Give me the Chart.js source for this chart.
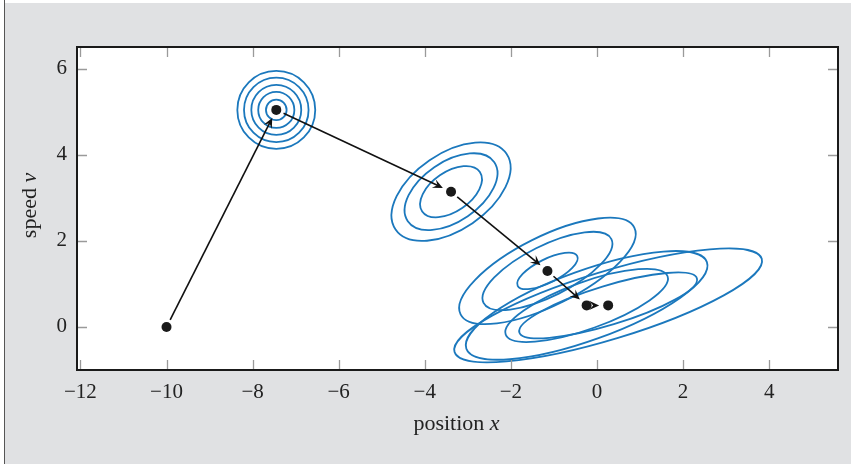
<!DOCTYPE html>
<html lang="en">
<head>
<meta charset="UTF-8">
<title>State estimate</title>
<script src="https://cdn.jsdelivr.net/npm/chart.js@4.4.1/dist/chart.umd.min.js"></script>
<style>
  body { margin: 0; background: #fff; }
  #wrap { position: relative; width: 851px; height: 464px; }
</style>
</head>
<body>
<div id="wrap"><canvas id="stateChart"></canvas></div>
<script>
// estimated state (position, speed) at each step
const posX = [-10, -7.45, -3.39, -1.15, -0.24, 0.26];
const speedV = [0, 5.04, 3.14, 1.30, 0.50, 0.50];

// uncertainty ellipses: state index, semi-axes, tilt in degrees, contour levels
const ellCentre = [1, 2, 3, 4, 5];
const ellMajor = [1, 1.56, 2.255, 2.97, 3.73];
const ellMinor = [1, 0.885, 0.80, 0.81, 0.79];
const ellAngle = [0, 34.3, 26.5, 19.8, 16.9];
const ellLevels = [
  [0.24, 0.42, 0.58, 0.75, 0.905],
  [0.52, 0.78, 1],
  [0.343, 0.736, 1],
  [0.673, 1],
  [0.578, 1]
];

const xTicks = [-12, -10, -8, -6, -4, -2, 0, 2, 4];
const yTicks = [0, 2, 4, 6];

const FONT = '"Liberation Serif", "DejaVu Serif", serif';
const BLUE = '#1b78bd';

function minusLabel(v) {
  return v < 0 ? '\u2212' + Math.abs(v) : String(v);
}

// page background, plot area fill
const backdrop = {
  id: 'backdrop',
  beforeDraw(chart) {
    const { ctx, width, height, chartArea: a } = chart;
    ctx.save();
    ctx.fillStyle = '#fff';
    ctx.fillRect(0, 0, width, height);
    ctx.fillStyle = '#e0e1e3';
    ctx.fillRect(5, 3, width - 5, height - 3);
    ctx.strokeStyle = '#555';
    ctx.lineWidth = 1;
    ctx.beginPath();
    ctx.moveTo(4.5, 0);
    ctx.lineTo(4.5, height);
    ctx.stroke();
    ctx.fillStyle = '#fff';
    ctx.fillRect(a.left, a.top, a.right - a.left, a.bottom - a.top);
    ctx.restore();
  }
};

// contour ellipses and arrows between consecutive estimates
const overlays = {
  id: 'overlays',
  beforeDatasetsDraw(chart) {
    const { ctx, chartArea: a, scales: { x, y } } = chart;
    const sx = x.getPixelForValue(1) - x.getPixelForValue(0);
    const sy = y.getPixelForValue(0) - y.getPixelForValue(1);
    ctx.save();
    ctx.beginPath();
    ctx.rect(a.left, a.top, a.right - a.left, a.bottom - a.top);
    ctx.clip();

    ctx.strokeStyle = BLUE;
    ctx.lineWidth = 1.8;
    ellCentre.forEach((c, i) => {
      const cx = x.getPixelForValue(posX[c]);
      const cy = y.getPixelForValue(speedV[c]);
      ellLevels[i].forEach(k => {
        ctx.save();
        ctx.translate(cx, cy);
        ctx.scale(sx, -sy);
        ctx.rotate(ellAngle[i] * Math.PI / 180);
        ctx.beginPath();
        ctx.ellipse(0, 0, ellMajor[i] * k, ellMinor[i] * k, 0, 0, 2 * Math.PI);
        ctx.restore();
        ctx.stroke();
      });
    });

    // arrows
    ctx.strokeStyle = '#111';
    ctx.fillStyle = '#111';
    ctx.lineWidth = 1.6;
    for (let i = 0; i < posX.length - 1; i++) {
      const px = x.getPixelForValue(posX[i]), py = y.getPixelForValue(speedV[i]);
      const qx = x.getPixelForValue(posX[i + 1]), qy = y.getPixelForValue(speedV[i + 1]);
      const d = Math.hypot(qx - px, qy - py);
      const ux = (qx - px) / d, uy = (qy - py) / d;
      const nx = -uy, ny = ux;
      const sx0 = px + ux * 8, sy0 = py + uy * 8;
      const tx = qx - ux * 9, ty = qy - uy * 9;
      const L = 10, W = 4.6;
      ctx.beginPath();
      ctx.moveTo(sx0, sy0);
      ctx.lineTo(tx - ux * 5, ty - uy * 5);
      ctx.stroke();
      ctx.beginPath();
      ctx.moveTo(tx, ty);
      ctx.lineTo(tx - ux * L + nx * W, ty - uy * L + ny * W);
      ctx.lineTo(tx - ux * L * 0.6, ty - uy * L * 0.6);
      ctx.lineTo(tx - ux * L - nx * W, ty - uy * L - ny * W);
      ctx.closePath();
      ctx.fill();
    }
    ctx.restore();
  },
  afterDraw(chart) {
    const { ctx, chartArea: a, scales: { x, y } } = chart;
    ctx.save();
    // inward ticks on all four sides
    ctx.strokeStyle = '#9a9a9a';
    ctx.lineWidth = 1.3;
    ctx.beginPath();
    xTicks.forEach(v => {
      const p = Math.round(x.getPixelForValue(v)) + 0.5;
      ctx.moveTo(p, a.bottom); ctx.lineTo(p, a.bottom - 10);
      ctx.moveTo(p, a.top); ctx.lineTo(p, a.top + 10);
    });
    yTicks.forEach(v => {
      const p = Math.round(y.getPixelForValue(v)) + 0.5;
      ctx.moveTo(a.left, p); ctx.lineTo(a.left + 10, p);
      ctx.moveTo(a.right, p); ctx.lineTo(a.right - 10, p);
    });
    ctx.stroke();
    // frame
    ctx.strokeStyle = '#1a1a1a';
    ctx.lineWidth = 2;
    ctx.strokeRect(a.left, a.top, a.right - a.left, a.bottom - a.top);

    // axis titles with italic variable names
    ctx.fillStyle = '#222';
    ctx.textBaseline = 'alphabetic';
    const drawTitle = (word, sym) => {
      ctx.font = '22px ' + FONT;
      const w1 = ctx.measureText(word).width;
      ctx.font = 'italic 22px ' + FONT;
      const w2 = ctx.measureText(sym).width;
      let s = -(w1 + w2) / 2;
      ctx.font = '22px ' + FONT;
      ctx.fillText(word, s, 0);
      ctx.font = 'italic 22px ' + FONT;
      ctx.fillText(sym, s + w1, 0);
    };
    ctx.save();
    ctx.translate((a.left + a.right) / 2 - 1, 430);
    drawTitle('position ', 'x');
    ctx.restore();
    ctx.save();
    ctx.translate(36, (a.top + a.bottom) / 2 - 3);
    ctx.rotate(-Math.PI / 2);
    drawTitle('speed ', 'v');
    ctx.restore();
    ctx.restore();
  }
};

new Chart(document.getElementById('stateChart'), {
  type: 'scatter',
  data: {
    datasets: [{
      data: posX.map((v, i) => ({ x: v, y: speedV[i] })),
      pointRadius: 5,
      pointBackgroundColor: '#1a1a1a',
      pointBorderWidth: 0,
      showLine: false
    }]
  },
  options: {
    responsive: true,
    maintainAspectRatio: false,
    animation: false,
    layout: { padding: { top: 47, right: 13, left: 0, bottom: 0 } },
    plugins: { legend: { display: false }, tooltip: { enabled: false } },
    scales: {
      x: {
        type: 'linear',
        min: -12.08,
        max: 5.6,
        afterBuildTicks: s => { s.ticks = xTicks.map(v => ({ value: v })); },
        afterFit: s => { s.height = 94; },
        grid: { display: false, drawTicks: false },
        border: { display: false },
        ticks: {
          padding: 10,
          color: '#222',
          font: { family: FONT, size: 21 },
          maxRotation: 0,
          callback: minusLabel
        }
      },
      y: {
        type: 'linear',
        min: -1,
        max: 6.5,
        afterBuildTicks: s => { s.ticks = yTicks.map(v => ({ value: v })); },
        afterFit: s => { s.width = 77; },
        grid: { display: false, drawTicks: false },
        border: { display: false },
        ticks: {
          padding: 10,
          color: '#222',
          font: { family: FONT, size: 21 },
          callback: minusLabel
        }
      }
    }
  },
  plugins: [backdrop, overlays]
});
</script>
</body>
</html>
